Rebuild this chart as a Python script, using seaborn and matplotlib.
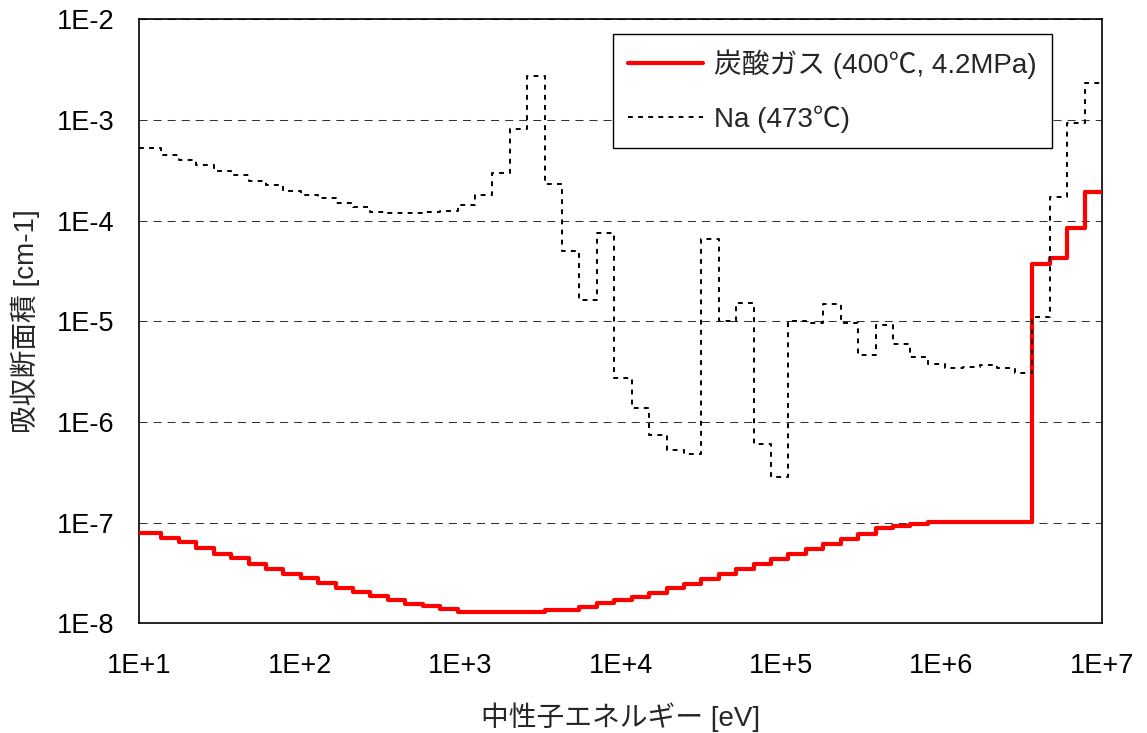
import matplotlib
matplotlib.use("Agg")
import matplotlib.pyplot as plt
from matplotlib.ticker import FixedLocator, FixedFormatter, NullLocator
import pandas as pd
import seaborn as sns

# Group boundaries [eV]: 0.25-lethargy groups below 10 MeV, closed at 10 eV
energy_edges = [
    10.0, 13.71, 17.60, 22.60, 29.02, 37.27, 47.85, 61.44, 78.89, 101.3,
    130.1, 167.0, 214.5, 275.4, 353.6, 454.0, 582.9, 748.5, 961.1, 1234.0,
    1585.0, 2035.0, 2613.0, 3355.0, 4307.0, 5531.0, 7102.0, 9119.0, 1.171e4, 1.503e4,
    1.930e4, 2.479e4, 3.183e4, 4.087e4, 5.248e4, 6.738e4, 8.652e4, 1.111e5, 1.426e5, 1.832e5,
    2.352e5, 3.020e5, 3.877e5, 4.979e5, 6.393e5, 8.209e5, 1.054e6, 1.353e6, 1.738e6, 2.231e6,
    2.865e6, 3.679e6, 4.724e6, 6.065e6, 7.788e6, 1.0e7,
]

# Macroscopic absorption cross section per group [cm-1], low to high energy
co2_xs = [
    7.98e-8, 7.02e-8, 6.41e-8, 5.62e-8, 4.94e-8, 4.48e-8, 3.93e-8, 3.48e-8, 3.13e-8, 2.85e-8,
    2.51e-8, 2.25e-8, 2.07e-8, 1.88e-8, 1.71e-8, 1.56e-8, 1.49e-8, 1.38e-8, 1.30e-8, 1.30e-8,
    1.30e-8, 1.30e-8, 1.30e-8, 1.36e-8, 1.36e-8, 1.47e-8, 1.59e-8, 1.71e-8, 1.85e-8, 2.03e-8,
    2.24e-8, 2.45e-8, 2.77e-8, 3.08e-8, 3.51e-8, 3.90e-8, 4.41e-8, 4.91e-8, 5.54e-8, 6.17e-8,
    6.92e-8, 7.75e-8, 8.83e-8, 9.38e-8, 9.75e-8, 1.03e-7, 1.03e-7, 1.03e-7, 1.03e-7, 1.03e-7,
    1.03e-7, 3.72e-5, 4.27e-5, 8.43e-5, 1.92e-4,
]
na_xs = [
    5.25e-4, 4.48e-4, 3.99e-4, 3.59e-4, 3.15e-4, 2.85e-4, 2.50e-4, 2.27e-4, 1.99e-4, 1.79e-4,
    1.69e-4, 1.49e-4, 1.38e-4, 1.23e-4, 1.20e-4, 1.20e-4, 1.21e-4, 1.25e-4, 1.43e-4, 1.81e-4,
    2.96e-4, 8.17e-4, 2.75e-3, 2.31e-4, 5.01e-5, 1.64e-5, 7.62e-5, 2.73e-6, 1.37e-6, 7.46e-7,
    5.30e-7, 4.80e-7, 6.60e-5, 1.02e-5, 1.54e-5, 6.08e-7, 2.88e-7, 1.00e-5, 9.70e-6, 1.48e-5,
    9.60e-6, 4.64e-6, 9.20e-6, 5.93e-6, 4.47e-6, 3.76e-6, 3.43e-6, 3.56e-6, 3.70e-6, 3.43e-6,
    3.06e-6, 1.11e-5, 1.74e-4, 9.44e-4, 2.32e-3,
]

series_names = ["炭酸ガス (400℃, 4.2MPa)", "Na (473℃)"]
x_ticks = [1e1, 1e2, 1e3, 1e4, 1e5, 1e6, 1e7]
x_tick_labels = ["1E+1", "1E+2", "1E+3", "1E+4", "1E+5", "1E+6", "1E+7"]
y_ticks = [1e-8, 1e-7, 1e-6, 1e-5, 1e-4, 1e-3, 1e-2]
y_tick_labels = ["1E-8", "1E-7", "1E-6", "1E-5", "1E-4", "1E-3", "1E-2"]
x_label = "中性子エネルギー [eV]"
y_label = "吸収断面積 [cm-1]"


def step_frame(values, name):
    """Group values as a steps-post polyline over the group boundaries."""
    return pd.DataFrame({
        "energy": energy_edges,
        "xs": list(values) + [values[-1]],
        "series": name,
    })


sns.set_style("white")
plt.rcParams["font.family"] = ["Liberation Sans", "Noto Sans CJK JP"]
plt.rcParams["axes.unicode_minus"] = False

fig = plt.figure(figsize=(11.47, 7.33), dpi=100)
ax = fig.add_axes([0.1216, 0.1494, 0.8391, 0.8240])

sns.lineplot(data=step_frame(co2_xs, series_names[0]), x="energy", y="xs",
             ax=ax, color="#ff0000", linewidth=3.0, drawstyle="steps-post",
             estimator=None, label=series_names[0], zorder=3)
sns.lineplot(data=step_frame(na_xs, series_names[1]), x="energy", y="xs",
             ax=ax, color="black", linewidth=1.4, linestyle=(0, (2.5, 2.7)),
             drawstyle="steps-post", estimator=None, label=series_names[1], zorder=4)

ax.set_xscale("log")
ax.set_yscale("log")
ax.set_xlim(1e1, 1e7)
ax.set_ylim(1e-8, 1e-2)

ax.xaxis.set_major_locator(FixedLocator(x_ticks))
ax.xaxis.set_major_formatter(FixedFormatter(x_tick_labels))
ax.xaxis.set_minor_locator(NullLocator())
ax.yaxis.set_major_locator(FixedLocator(y_ticks))
ax.yaxis.set_major_formatter(FixedFormatter(y_tick_labels))
ax.yaxis.set_minor_locator(NullLocator())

ax.tick_params(axis="x", direction="in", length=7.2, width=0.8, color="#666666",
               pad=21, labelsize=19.5, labelcolor="black")
ax.tick_params(axis="y", length=0, pad=18, labelsize=19.5, labelcolor="black")

ax.grid(False)
ax.yaxis.grid(True, which="major", color="#333333", linewidth=0.75,
              linestyle=(0, (7.7, 5.8)))
ax.set_axisbelow(True)

for side in ["left", "right", "top", "bottom"]:
    ax.spines[side].set_visible(True)
    ax.spines[side].set_color("black")
    ax.spines[side].set_linewidth(1.2)

ax.set_xlabel(x_label, fontsize=20)
ax.set_ylabel(y_label, fontsize=20)
ax.xaxis.set_label_coords(0.5, -0.131)
ax.yaxis.set_label_coords(-0.103, 0.5)

leg = ax.legend(loc="upper right", bbox_to_anchor=(0.948, 0.976), borderaxespad=0,
                frameon=True, fancybox=False, framealpha=1, edgecolor="black",
                fontsize=20, handlelength=2.7, handletextpad=0.4,
                labelspacing=0.95, borderpad=0.55)
leg.get_frame().set_linewidth(1.0)

fig.savefig("out.png", dpi=100)
